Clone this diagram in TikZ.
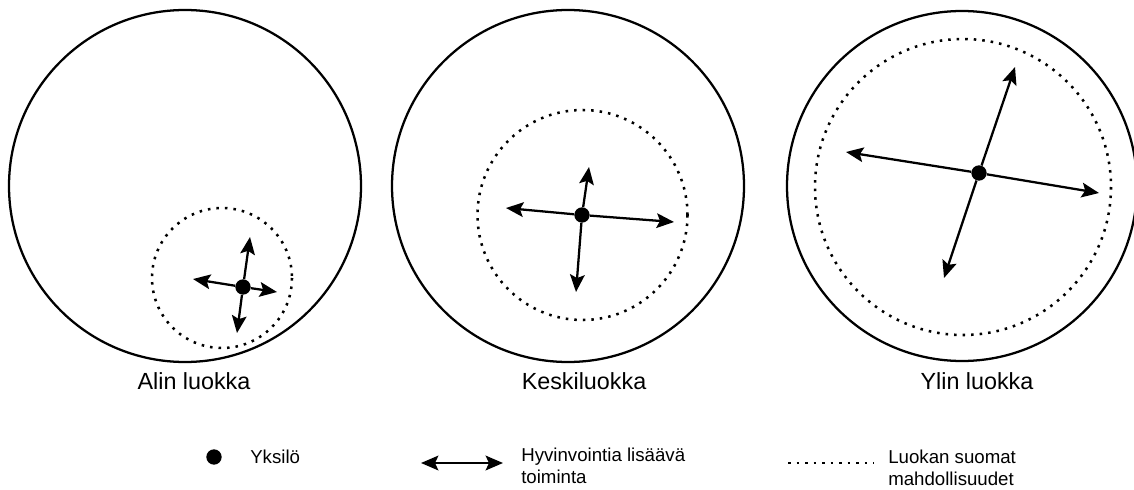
\documentclass[tikz,border=0pt]{standalone}
\usepackage{fontspec}
\setmainfont{Liberation Sans}
\usetikzlibrary{arrows.meta}
\tikzset{
  bigcirc/.style={line width=1.7pt},
  dotcirc/.style={line width=1.9pt, dash pattern=on 1.9pt off 4.5pt},
  person/.style={circle, fill=black, inner sep=0pt, minimum size=11.5pt},
  tip/.style={Stealth[length=13pt, width=11pt, inset=2.5pt]},
  arr/.style={line width=1.7pt, -{Stealth[length=13pt, width=11pt, inset=2.5pt]}},
  darr/.style={line width=1.7pt, {Stealth[length=13pt, width=11pt, inset=2.5pt]}-{Stealth[length=13pt, width=11pt, inset=2.5pt]}},
  caption/.style={font=\fontsize{17.5pt}{20pt}\selectfont, anchor=base, inner sep=0pt},
  legtext/.style={font=\fontsize{14pt}{16.5pt}\selectfont, anchor=base west, inner sep=0pt, align=left}
}
\begin{document}
\begin{tikzpicture}[x=0.75pt,y=-0.75pt]
\useasboundingbox (0,0) rectangle (1134,489);
% big circles
\draw[bigcirc] (185,186) circle[radius=176];
\draw[bigcirc] (568,186) circle[radius=176];
\draw[bigcirc] (962,186) circle[radius=175];
% dotted circles
\draw[dotcirc] (222,278) circle[radius=70];
\draw[dotcirc] (582.5,215) circle[radius=105];
\draw[dotcirc] (963,187) circle[radius=148];
% circle 1
\node[person] (d1) at (243,287) {};
\coordinate (u1) at (250,237);
\coordinate (b1) at (237,333);
\coordinate (l1) at (193,279);
\coordinate (r1) at (277,292);
\draw[arr] (d1) -- (u1);
\draw[arr] (d1) -- (b1);
\draw[arr] (d1) -- (l1);
\draw[arr] (d1) -- (r1);
% circle 2
\node[person] (d2) at (582,215) {};
\coordinate (u2) at (589,167);
\coordinate (b2) at (576,292);
\coordinate (l2) at (506,208);
\coordinate (r2) at (674,222);
\draw[arr] (d2) -- (u2);
\draw[arr] (d2) -- (b2);
\draw[arr] (d2) -- (l2);
\draw[arr] (d2) -- (r2);
% circle 3
\node[person] (d3) at (979,173) {};
\coordinate (u3) at (1015,67);
\coordinate (b3) at (944,278);
\coordinate (l3) at (846,152);
\coordinate (r3) at (1099,193);
\draw[arr] (d3) -- (u3);
\draw[arr] (d3) -- (b3);
\draw[arr] (d3) -- (l3);
\draw[arr] (d3) -- (r3);
% captions
\node[caption] (c1) at (194,389) {Alin luokka};
\node[caption] (c2) at (584,389) {Keskiluokka};
\node[caption] (c3) at (977,389) {Ylin luokka};
% legend
\node[person] (ld) at (214,457) {};
\node[legtext] (lt1) at (250,463) {Yksilö};
\coordinate (la1) at (421,463);
\coordinate (la2) at (503,463);
\draw[darr] (la1) -- (la2);
\node[legtext] (lt2) at (521,483) {Hyvinvointia lisäävä\\toiminta};
\coordinate (ll1) at (788,463);
\coordinate (ll2) at (874,463);
\draw[dotcirc] (ll1) -- (ll2);
\node[legtext] (lt3) at (888,485) {Luokan suomat\\mahdollisuudet};
\end{tikzpicture}
\end{document}
